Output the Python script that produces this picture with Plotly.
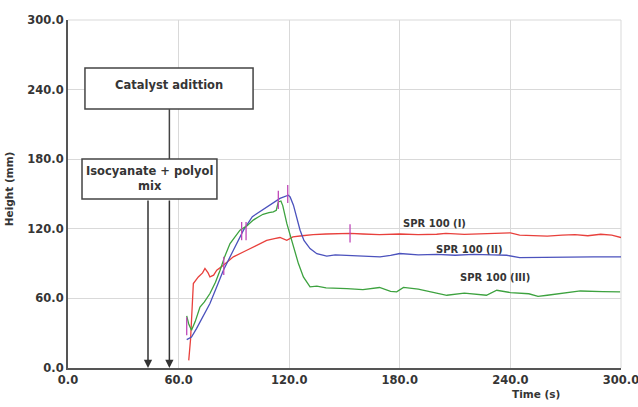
import plotly.graph_objects as go

# ---- data ----
red_x = [65.5, 66.5, 68, 70.7, 73, 74.3, 76, 77, 79, 80.7, 84.3, 89.7, 97, 103, 107.8, 112, 115, 118.7, 122, 127,
         133, 140, 150, 153, 160, 169, 180, 190, 200, 205, 215, 225, 240, 245, 252, 260, 268, 275, 282, 289, 295, 300]
red_y = [6.6, 25, 72.8, 78.5, 82, 85.8, 82, 78.5, 80, 84.3, 88.6, 95.8, 101.5, 106, 110, 111.5, 112.5, 110, 113, 114,
         115, 115.5, 116, 116, 115.5, 115, 115.5, 115, 115.3, 116, 115.2, 115.8, 116.5, 114.5, 114, 113.6, 114.5, 115, 114, 115.3, 114.5, 112.5]

blue_x = [64.4, 67, 69.7, 71, 73.4, 77, 80.7, 84.3, 89.7, 95.2, 100, 102.4, 106, 109.6, 115, 119.5, 120.5, 122.3, 125.9, 128,
          131.3, 135, 140.4, 145, 151.3, 160, 169.3, 175, 180, 190, 200, 210, 220, 230, 238, 245, 255, 265, 275, 285, 300]
blue_y = [24.5, 26.7, 34, 38, 44, 55.6, 70, 84.3, 101.5, 118.8, 130.5, 133, 137, 141, 146.2, 149, 147.5, 140.4, 118.8, 110,
          103, 98.5, 96.4, 97.5, 97.2, 96.8, 95.8, 97, 98.7, 97.5, 98, 97.2, 98, 97.5, 97.2, 95.2, 95.5, 95.2, 95.8, 95.8, 95.8]

green_x = [64.4, 65.5, 67, 69, 71.6, 74, 77, 80, 82.5, 85, 87.9, 90, 93.3, 97, 100.5, 103, 105.8, 109, 111.4, 113,
           114.1, 115.5, 116.5, 118.7, 122.3, 125, 127.7, 131.3, 135, 140, 151.3, 160, 169, 175, 178.3, 182, 190, 198,
           205.5, 215, 227, 232.6, 240, 250, 255, 260, 270, 278, 290, 299.5]
green_y = [45, 38, 32.5, 40, 52.6, 57, 64.2, 74, 84.3, 96, 107.3, 112, 118.8, 122.5, 127.5, 130, 132.5, 134, 134.6, 136,
           143.2, 144, 140, 124.6, 104.4, 90, 78.5, 69.9, 70.5, 69, 68.5, 67.5, 69.4, 66, 65.6, 69.5, 68, 65,
           62.7, 64.5, 62.7, 67, 65, 64, 61.8, 62.7, 65, 66.4, 65.8, 65.6]

tick_mark_x = [64.4, 84.5, 94.2, 96.6, 114.1, 119.2, 153]
tick_mark_y = [36, 88, 118, 118, 145, 150, 116]

series_names = ["SPR 100 (I)", "SPR 100 (II)", "SPR 100 (III)"]
label_x = [199, 218, 231.7]
label_y = [124.6, 102, 78]

axis_ticks = [0, 60, 120, 180, 240, 300]
iso_time = 43.4
catalyst_time = 55.0

FONT = "DejaVu Sans"
TXT = "#353535"

fig = go.Figure()
for xs, ys, col, nm in [(red_x, red_y, "#e8403c", series_names[0]),
                        (blue_x, blue_y, "#4b52bd", series_names[1]),
                        (green_x, green_y, "#3da23f", series_names[2])]:
    fig.add_trace(go.Scatter(x=xs, y=ys, mode="lines", name=nm,
                             line=dict(color=col, width=1.3), showlegend=False))

fig.add_trace(go.Scatter(x=tick_mark_x, y=tick_mark_y, mode="markers", showlegend=False,
                         marker=dict(symbol="line-ns", size=13, line=dict(color="#c048b8", width=1.3))))

for nm, lx, ly in zip(series_names, label_x, label_y):
    fig.add_annotation(x=lx, y=ly, text=f"<b>{nm}</b>", showarrow=False,
                       font=dict(family=FONT, size=10, color=TXT))

# boxes
box_line = dict(color="#444444", width=1.5)
fig.add_shape(type="line", x0=catalyst_time, x1=catalyst_time, y0=223.2, y1=180.1,
              xref="x", yref="y", line=box_line)
fig.add_shape(type="rect", x0=9.2, x1=100.4, y0=223.2, y1=258.6, xref="x", yref="y",
              line=box_line, fillcolor="white")
fig.add_annotation(x=(9.2 + 100.4) / 2, y=244, text="<b>Catalyst adittion</b>", showarrow=False,
                   font=dict(family=FONT, size=11.5, color=TXT))
fig.add_shape(type="rect", x0=7.6, x1=80.8, y0=145.6, y1=180.1, xref="x", yref="y",
              line=box_line, fillcolor="white")
fig.add_annotation(x=(7.6 + 80.8) / 2, y=163, text="<b>Isocyanate + polyol<br>mix</b>", showarrow=False,
                   font=dict(family=FONT, size=11.5, color=TXT))

for t in [iso_time, catalyst_time]:
    fig.add_annotation(x=t, y=0, ax=t, ay=145.6, xref="x", yref="y", axref="x", ayref="y",
                       text="", showarrow=True, arrowhead=2, arrowsize=1.1, arrowwidth=1.5,
                       arrowcolor="#333333", standoff=0)

# light top/right border
fig.add_shape(type="line", xref="paper", yref="paper", x0=0, x1=1, y0=1, y1=1,
              line=dict(color="#d9d9d9", width=1), layer="below")
fig.add_shape(type="line", xref="paper", yref="paper", x0=1, x1=1, y0=0, y1=1,
              line=dict(color="#d9d9d9", width=1), layer="below")

fig.add_annotation(xref="paper", yref="paper", x=-0.092, xanchor="right", y=0.514, text="<b>Height (mm)</b>",
                   textangle=-90, showarrow=False, font=dict(family=FONT, size=10.5, color=TXT))
fig.add_annotation(xref="paper", yref="paper", x=0.893, y=-0.099, text="<b>Time (s)</b>",
                   showarrow=False, font=dict(family=FONT, size=10.5, color=TXT))

axis_common = dict(range=[0, 300], tickvals=axis_ticks,
                   ticktext=[f"<b>{v:.1f}</b>" for v in axis_ticks],
                   showgrid=True, gridcolor="#d9d9d9", gridwidth=1,
                   showline=True, linecolor="#555555", linewidth=2,
                   zeroline=False, ticks="", ticklabeloverflow="allow", automargin=False,
                   tickfont=dict(family=FONT, size=11.5, color=TXT))

fig.update_xaxes(**axis_common)
fig.update_yaxes(**axis_common)

fig.update_layout(width=638, height=407, margin=dict(l=68, r=17, t=20, b=39, autoexpand=False),
                  plot_bgcolor="white", paper_bgcolor="white", showlegend=False)

fig.write_html("out.html")
